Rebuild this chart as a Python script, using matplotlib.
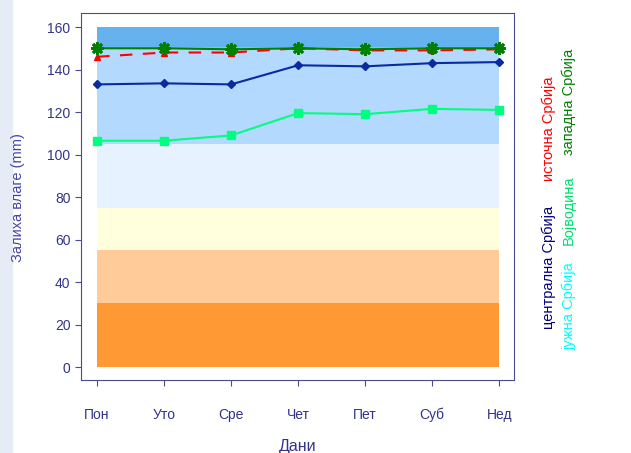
import matplotlib.pyplot as plt
from matplotlib.patches import Rectangle

plt.rcParams['font.family'] = ['Liberation Sans', 'DejaVu Sans']

days = ["Пон", "Уто", "Сре", "Чет", "Пет", "Суб", "Нед"]

zapadna = [150, 150, 149.5, 150, 149.5, 150, 150]
istocna = [146, 148, 148, 150, 149, 149, 149.5]
centralna = [133, 133.5, 133, 142, 141.5, 143, 143.5]
vojvodina = [106.5, 106.5, 109, 119.5, 119, 121.5, 121]
juzna = [150, 150, 150, 150, 150, 150, 150]

band_edges = [0, 30, 55, 75, 105, 150, 160]
band_colors = ["#FF9933", "#FFCC99", "#FFFFDD", "#E6F2FF", "#B3D9FF", "#66B2EE"]

text_color = "#333388"
frame_color = "#4B4B8F"

fig = plt.figure(figsize=(6.31, 4.53), dpi=100)
fig.patches.append(Rectangle((0, 0), 12 / 631, 1, transform=fig.transFigure,
                             color="#E6ECF5", zorder=0))
ax = fig.add_axes([81 / 631, 1 - 380 / 453, 433 / 631, 367 / 453])

x = list(range(len(days)))
for i in range(len(band_colors)):
    ax.fill_between([x[0], x[-1]], band_edges[i], band_edges[i + 1],
                    color=band_colors[i], linewidth=0, zorder=1)

ax.plot(x, juzna, color="#00FFFF", lw=1.5, zorder=2)
ax.plot(x, vojvodina, color="#00FF80", lw=1.5, marker="s", ms=6, zorder=3)
ax.plot(x, centralna, color="#0A2A9F", lw=1.5, marker="D", ms=4, zorder=3)
ax.plot(x, istocna, color="#FF0000", lw=1.5, ls=(0, (6, 5)), marker="^", ms=5, zorder=3)
ax.plot(x, zapadna, color="#008000", lw=1.5, marker=(8, 2, 0), ms=9, mew=2, zorder=4)

ax.set_xlim(-0.24, 6.22)
ax.set_ylim(-6.1, 166.6)
ax.set_xticks(x)
ax.set_xticklabels(days)
ax.set_yticks(range(0, 161, 20))
ax.tick_params(colors=frame_color, labelcolor=text_color, labelsize=10, length=4)
ax.tick_params(axis="x", pad=16)
for sp in ax.spines.values():
    sp.set_color(frame_color)

ax.set_xlabel("Дани", color=text_color, fontsize=11.5, labelpad=12)
fig.text(18 / 631, 1 - 198 / 453, "Залиха влаге (mm)", rotation=90, color="#4444AA",
         fontsize=10.5, ha="center", va="center")

fig.text(549 / 631, 1 - 129 / 453, "источна Србија", rotation=90, color="#FF0000",
         fontsize=10.5, ha="center", va="center")
fig.text(549 / 631, 1 - 267 / 453, "централна Србија", rotation=90, color="#000080",
         fontsize=10.5, ha="center", va="center")
fig.text(569 / 631, 1 - 102 / 453, "западна Србија", rotation=90, color="#008000",
         fontsize=10.5, ha="center", va="center")
fig.text(569 / 631, 1 - 210 / 453, "Војводина", rotation=90, color="#00E070",
         fontsize=10.5, ha="center", va="center")
fig.text(569 / 631, 1 - 306 / 453, "јужна Србија", rotation=90, color="#00FFFF",
         fontsize=10.5, ha="center", va="center")

fig.savefig("out.png", dpi=100)
